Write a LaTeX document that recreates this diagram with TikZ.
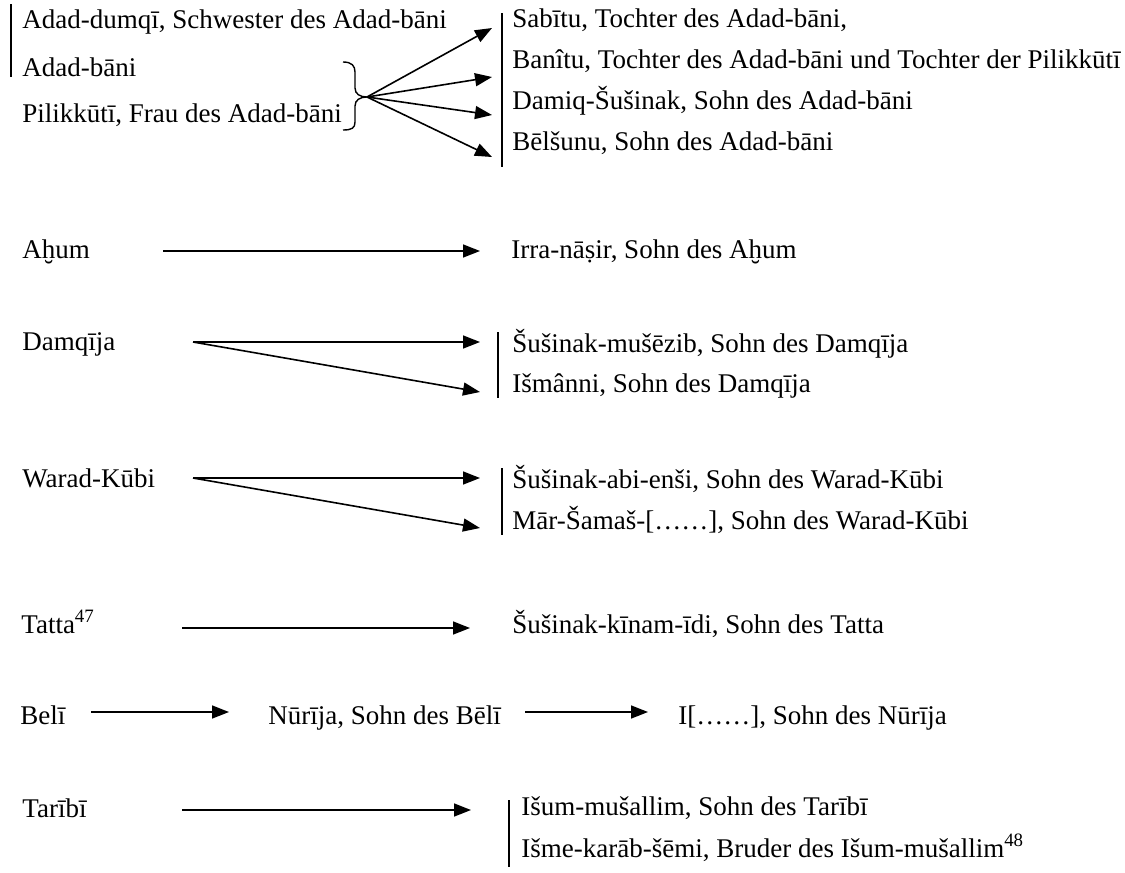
\documentclass[tikz,border=0pt]{standalone}
\usepackage{fontspec}
\setmainfont{Liberation Serif}
\usetikzlibrary{arrows.meta}
\begin{document}
\begin{tikzpicture}[x=0.5pt,y=-0.5pt,
  lbl/.style={anchor=base west,inner sep=0pt,font=\fontsize{13.5}{16}\selectfont},
  arr/.style={line width=0.8pt,-{Triangle[length=8.5pt,width=6.5pt]}},
  bar/.style={line width=1.1pt},
  brc/.style={line width=0.7pt},
]
\useasboundingbox (0,0) rectangle (1125,873);

% ---- group 1
\node[lbl] (ad) at (22,28) {Adad-dumqī, Schwester des Adad-bāni};
\node[lbl] (ab) at (22,76) {Adad-bāni};
\node[lbl] (pi) at (22,122) {Pilikkūtī, Frau des Adad-bāni};
\draw[bar] (11,4) -- (11,77);
\draw[brc] (343,62) .. controls (352,62) and (355,66) .. (355,72) -- (355,88)
  .. controls (355,94) and (360,97) .. (367,97)
  .. controls (360,97) and (355,100) .. (355,106) -- (355,122)
  .. controls (355,128) and (352,130) .. (343,130);
\coordinate (bt) at (367,97);
\coordinate (t1) at (492,28);
\coordinate (t2) at (492,77);
\coordinate (t3) at (492,115);
\coordinate (t4) at (492,157);
\draw[arr] (bt) -- (t1);
\draw[arr] (bt) -- (t2);
\draw[arr] (bt) -- (t3);
\draw[arr] (bt) -- (t4);
\draw[bar] (502,13) -- (502,167);
\node[lbl] (sa) at (512,27) {Sabītu, Tochter des Adad-bāni,};
\node[lbl] (ba) at (512,68) {Banîtu, Tochter des Adad-bāni und Tochter der Pilikkūtī};
\node[lbl] (da) at (512,109) {Damiq-Šušinak, Sohn des Adad-bāni};
\node[lbl] (be) at (512,150) {Bēlšunu, Sohn des Adad-bāni};

% ---- Ahum
\node[lbl] (ah) at (22,258) {Aḫum};
\node[lbl] (ir) at (511,258) {Irra-nāṣir, Sohn des Aḫum};
\coordinate (ahs) at (163,251);
\coordinate (ahe) at (480,251);
\draw[arr] (ahs) -- (ahe);

% ---- Damqija
\node[lbl] (dq) at (22,350) {Damqīja};
\node[lbl] (sm) at (512,352) {Šušinak-mušēzib, Sohn des Damqīja};
\node[lbl] (is) at (512,392) {Išmânni, Sohn des Damqīja};
\coordinate (dqs) at (193,342);
\coordinate (dqa) at (480,342);
\coordinate (dqb) at (480,392);
\draw[arr] (dqs) -- (dqa);
\draw[arr] (dqs) -- (dqb);
\draw[bar] (498,332) -- (498,398);

% ---- Warad-Kubi
\node[lbl] (wk) at (22,487) {Warad-Kūbi};
\node[lbl] (sa2) at (512,488) {Šušinak-abi-enši, Sohn des Warad-Kūbi};
\node[lbl] (ms) at (512,529) {Mār-Šamaš-[……], Sohn des Warad-Kūbi};
\coordinate (wks) at (193,478);
\coordinate (wka) at (480,478);
\coordinate (wkb) at (480,528);
\draw[arr] (wks) -- (wka);
\draw[arr] (wks) -- (wkb);
\draw[bar] (502,468) -- (502,535);

% ---- Tatta
\node[lbl] (ta) at (21,633) {Tatta\textsuperscript{47}};
\node[lbl] (sk) at (512,633) {Šušinak-kīnam-īdi, Sohn des Tatta};
\coordinate (tas) at (182,628);
\coordinate (tae) at (470,628);
\draw[arr] (tas) -- (tae);

% ---- Beli
\node[lbl] (bl) at (20,724) {Belī};
\node[lbl] (nu) at (268,724) {Nūrīja, Sohn des Bēlī};
\node[lbl] (ii) at (678,724) {I[……], Sohn des Nūrīja};
\coordinate (bls) at (91,712);
\coordinate (ble) at (229,712);
\coordinate (nus) at (525,712);
\coordinate (nue) at (648,712);
\draw[arr] (bls) -- (ble);
\draw[arr] (nus) -- (nue);

% ---- Taribi
\node[lbl] (tr) at (22,817) {Tarībī};
\node[lbl] (im) at (521,815) {Išum-mušallim, Sohn des Tarībī};
\node[lbl] (ik) at (521,857) {Išme-karāb-šēmi, Bruder des Išum-mušallim\textsuperscript{48}};
\coordinate (trs) at (182,810);
\coordinate (tre) at (471,810);
\draw[arr] (trs) -- (tre);
\draw[bar] (509,800) -- (509,867);
\end{tikzpicture}
\end{document}
